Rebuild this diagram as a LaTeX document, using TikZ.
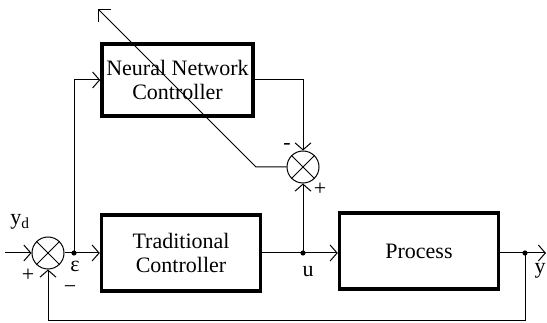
\documentclass[tikz,border=0pt]{standalone}
\usepackage{fontspec}
\setmainfont{Liberation Serif}
\usetikzlibrary{positioning,arrows.meta}
\newcommand\crossout[1]{%
\draw[thin line] (#1.north west) -- (#1.south east) (#1.north east) -- (#1.south west);
}
\newcommand\junctiondot[2]{%
\fill (#2) circle (2.6);
\coordinate (#1) at (#2);
}

\begin{document}
\begin{tikzpicture}[x=1pt,y=-1pt,
	every node/.style={font=\fontsize{22}{24}\selectfont},
	thin line/.style={line width=1pt},
	conn/.style={thin line,-{Straight Barb[length=7pt,width=16pt]}},
	block/.style={draw,line width=3.5pt,align=center,inner sep=0pt},
	sumnode/.style={draw,thin line,circle,minimum size=32pt,inner sep=0pt},
	label text/.style={inner sep=0pt}]
	%% frame of the picture
	\useasboundingbox (0,0) rectangle (547,323);

	%% blocks
	\node[block,minimum width=159pt,minimum height=76pt] (trad) at (181,253) {Traditional\\Controller};
	\node[block,minimum width=159pt,minimum height=76pt] (proc) at (419,251) {Process};
	\node[block,minimum width=151pt,minimum height=72pt] (nn) at (177.5,80) {Neural Network\\Controller};

	%% summing junctions
	\node[sumnode] (sumA) at (48,253) {};
	\crossout{sumA}
	\node[sumnode] (sumB) at (303,167) {};
	\crossout{sumB}

	%% branch points
	\junctiondot{eps}{74,253}
	\junctiondot{u}{303,253}
	\junctiondot{yout}{525,253}

	\coordinate (in) at (5,253);
	\coordinate (out) at (546,253);
	\coordinate (fb) at (525,321);
	\coordinate (bend) at (256,167);
	\coordinate (tip) at (98,9);

	%% signals
	\draw[conn] (in) -- (sumA);
	\draw[thin line] (sumA) -- (eps);
	\draw[conn] (eps) -- (trad);
	\draw[conn] (eps) |- (nn);
	\draw[thin line] (trad) -- (u);
	\draw[conn] (u) -- (u -| proc.west);
	\draw[thin line] (proc.east |- yout) -- (yout);
	\draw[conn] (yout) -- (out);
	\draw[conn] (yout) -- (fb) -| (sumA);
	\draw[conn] (nn) -| (sumB);
	\draw[conn] (u) -- (sumB);
	\draw[thin line,-{Straight Barb[length=9pt,width=18pt]}] (sumB) -- (bend) -- (tip);

	%% labels
	\node[label text] (ydlab) at (20,222) {y\textsubscript{d}};
	\node[label text] (epslab) at (75,266) {ε};
	\node[label text] (plusA) at (28,275) {+};
	\node[label text] (minusA) at (70,290) {−};
	\node[label text] (minusB) at (287,146) {-};
	\node[label text] (plusB) at (320,189) {+};
	\node[label text] (ulab) at (308,272) {u};
	\node[label text] (ylab) at (540,271) {y};
\end{tikzpicture}
\end{document}
